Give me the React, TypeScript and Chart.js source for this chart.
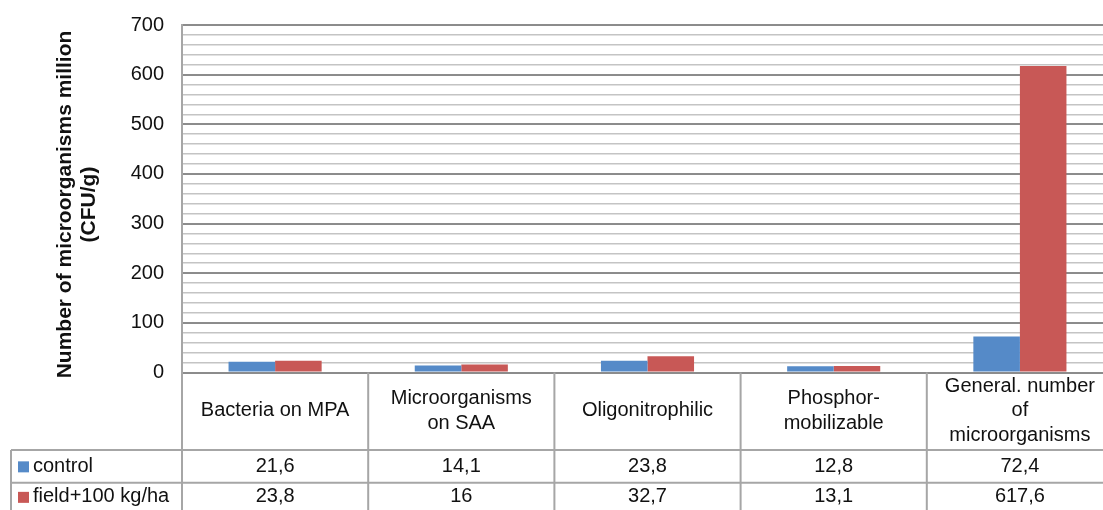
import React, { useEffect, useRef } from 'react';
import { Chart, registerables } from 'chart.js';

Chart.register(...registerables);

const categories: string[][] = [
  ['Bacteria on MPA'],
  ['Microorganisms', 'on SAA'],
  ['Oligonitrophilic'],
  ['Phosphor-', 'mobilizable'],
  ['General. number', 'of', 'microorganisms'],
];
const seriesNames = ['control', 'field+100 kg/ha'];
const controlValues = [21.6, 14.1, 23.8, 12.8, 72.4];
const fieldValues = [23.8, 16, 32.7, 13.1, 617.6];
const yMajorTicks = [0, 100, 200, 300, 400, 500, 600, 700];
const yMinorStep = 20;
const yTitle = ['Number of microorganisms million', '(CFU/g)'];

const BLUE = '#558AC8';
const RED = '#C85856';
const FONT = "'Liberation Sans', Arial, sans-serif";
const TABLE_LINE = '#a6a6a6';

const fmt = (v: number) => String(v).replace('.', ',');

const yTitlePlugin = {
  id: 'yTitle',
  afterDraw(chart: any) {
    const { ctx } = chart;
    ctx.save();
    ctx.fillStyle = '#111';
    ctx.font = `bold 21px ${FONT}`;
    ctx.textAlign = 'center';
    ctx.textBaseline = 'middle';
    const xs = [65, 89];
    yTitle.forEach((t, i) => {
      ctx.save();
      ctx.translate(xs[i], 204.5);
      ctx.rotate(-Math.PI / 2);
      ctx.fillText(t, 0, 0);
      ctx.restore();
    });
    ctx.restore();
  },
};

const tablePlugin = {
  id: 'dataTable',
  afterDraw(chart: any) {
    const { ctx, chartArea } = chart;
    const x = chart.scales.x;
    const n = categories.length;
    const left = chartArea.left;
    const right = chartArea.right;
    const edges: number[] = [];
    for (let i = 0; i <= n; i++) {
      if (i === 0) edges.push(left);
      else if (i === n) edges.push(right);
      else edges.push((x.getPixelForValue(i - 1) + x.getPixelForValue(i)) / 2);
    }
    const headerTop = chartArea.bottom;
    const headerBottom = 450;
    const row1Bottom = 482.7;
    const row2Bottom = 515;
    const legendLeft = 11;

    ctx.save();
    ctx.strokeStyle = TABLE_LINE;
    ctx.lineWidth = 2;
    ctx.beginPath();
    for (let i = 0; i <= n; i++) {
      ctx.moveTo(edges[i], headerTop);
      ctx.lineTo(edges[i], row2Bottom);
    }
    ctx.moveTo(legendLeft, headerBottom);
    ctx.lineTo(legendLeft, row2Bottom);
    [headerBottom, row1Bottom, row2Bottom].forEach((yy) => {
      ctx.moveTo(legendLeft, yy);
      ctx.lineTo(right, yy);
    });
    ctx.stroke();

    ctx.fillStyle = '#111';
    ctx.font = `20px ${FONT}`;
    ctx.textAlign = 'center';
    ctx.textBaseline = 'middle';
    const headerMid = (headerTop + headerBottom) / 2 - 0.5;
    const lh = 24.5;
    categories.forEach((lines, i) => {
      const cx = x.getPixelForValue(i);
      const start = headerMid - ((lines.length - 1) * lh) / 2;
      lines.forEach((t, j) => ctx.fillText(t, cx, start + j * lh));
    });
    const rows = [controlValues, fieldValues];
    const rowMids = [(headerBottom + row1Bottom) / 2, (row1Bottom + row2Bottom) / 2 - 2];
    rows.forEach((vals, r) => {
      vals.forEach((v, i) => {
        ctx.fillText(fmt(v), x.getPixelForValue(i), rowMids[r]);
      });
    });
    const colors = [BLUE, RED];
    seriesNames.forEach((name, r) => {
      ctx.fillStyle = colors[r];
      ctx.fillRect(18, rowMids[r] - 5, 11, 11);
      ctx.fillStyle = '#111';
      ctx.textAlign = 'left';
      ctx.fillText(name, 33, rowMids[r]);
    });
    ctx.restore();
  },
};

export default function App() {
  const canvasRef = useRef<HTMLCanvasElement | null>(null);

  useEffect(() => {
    if (!canvasRef.current) return;
    const chart = new Chart(canvasRef.current, {
      type: 'bar',
      data: {
        labels: categories.map((c) => c.join(' ')),
        datasets: [
          {
            label: seriesNames[0],
            data: controlValues,
            backgroundColor: BLUE,
            categoryPercentage: 0.5,
            barPercentage: 1.0,
          },
          {
            label: seriesNames[1],
            data: fieldValues,
            backgroundColor: RED,
            categoryPercentage: 0.5,
            barPercentage: 1.0,
          },
        ],
      },
      options: {
        responsive: true,
        maintainAspectRatio: false,
        animation: false,
        layout: { padding: { left: 0, top: 25, right: 2, bottom: 137.5 } },
        plugins: {
          legend: { display: false },
          tooltip: { enabled: false },
        },
        scales: {
          x: { display: false },
          y: {
            min: 0,
            max: 700,
            afterBuildTicks: (scale: any) => {
              const top = yMajorTicks[yMajorTicks.length - 1];
              const ticks: { value: number }[] = [];
              for (let v = yMajorTicks[0]; v <= top; v += yMinorStep) ticks.push({ value: v });
              scale.ticks = ticks;
            },
            afterFit: (scale: any) => {
              scale.width = 182;
            },
            ticks: {
              autoSkip: false,
              padding: 18,
              color: '#111',
              font: { family: FONT, size: 20, lineHeight: 0.7 },
              callback: (v: any) => (yMajorTicks.includes(Number(v)) ? String(v) : ''),
            },
            grid: {
              drawTicks: false,
              color: (c: any) => (c.tick && Number(c.tick.value) % 100 === 0 ? '#8c8c8c' : '#c4c4c4'),
              lineWidth: (c: any) => (c.tick && Number(c.tick.value) % 100 === 0 ? 2 : 1.6),
            },
            border: { display: true, color: TABLE_LINE, width: 2 },
            title: { display: false },
          },
        },
      },
      plugins: [tablePlugin, yTitlePlugin],
    });
    return () => chart.destroy();
  }, []);

  return (
    <div style={{ position: 'fixed', left: 0, top: 0, width: 1103, height: 510, overflow: 'hidden', background: '#fff' }}>
      <div style={{ position: 'relative', width: 1115, height: 510 }}>
        <canvas ref={canvasRef} />
      </div>
    </div>
  );
}
